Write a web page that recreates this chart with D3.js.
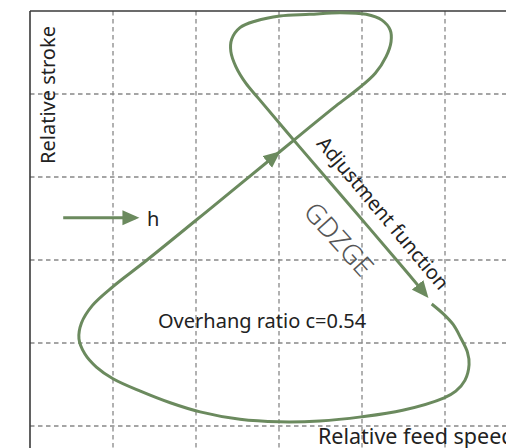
<!DOCTYPE html>
<html>
  <head>
    <meta charset="utf-8" />
    <script src="https://cdn.jsdelivr.net/npm/d3@7"></script>
    <style>
      body { margin: 0; background: #fff; }
      svg text { font-family: 'Noto Sans', 'Open Sans', sans-serif; fill: #222; }
    </style>
  </head>
  <body>
    <svg id="chart" width="506" height="448"></svg>
    <script>
      // grid positions (relative units)
      var gridX = [1, 2, 3, 4, 5];
      var gridY = [1, 2, 3, 4, 5];

      // lower part of the loop: from the gap after the right arrow round to the left arrow
      var lowLoop = [
        [4.84, 2.47], [4.98, 2.35], [5.10, 2.22], [5.19, 2.06], [5.27, 1.89],
        [5.29, 1.74], [5.24, 1.55], [5.13, 1.42], [4.99, 1.34], [4.49, 1.19],
        [3.99, 1.11], [3.49, 1.06], [3.00, 1.05], [2.53, 1.08], [2.05, 1.17],
        [1.69, 1.28], [1.33, 1.42], [1.00, 1.57], [0.80, 1.71], [0.66, 1.87],
        [0.59, 2.05], [0.62, 2.24], [0.75, 2.45], [1.00, 2.68], [1.41, 3.00],
        [2.21, 3.65], [2.98, 4.28]
      ];

      // upper part: from the left arrow over the top loop down the diagonal
      var highLoop = [
        [2.98, 4.28], [3.37, 4.60], [3.69, 4.86], [3.95, 5.06], [4.16, 5.25],
        [4.29, 5.45], [4.35, 5.63], [4.34, 5.77], [4.24, 5.89], [4.05, 5.96],
        [3.74, 5.98], [3.37, 5.96], [3.01, 5.94], [2.72, 5.88], [2.53, 5.80],
        [2.43, 5.66], [2.42, 5.51], [2.48, 5.33], [2.60, 5.13], [2.75, 4.95],
        [3.25, 4.36], [3.86, 3.65], [4.46, 2.95], [4.77, 2.58]
      ];

      // the small "h" arrow
      var hArrow = [[0.40, 3.51], [1.27, 3.51]];

      var green = '#6b8a5e';
      var svg = d3.select('#chart');

      var x = d3.scaleLinear().domain([0, 6]).range([30, 528]);
      var y = d3.scaleLinear().domain([0, 6]).range([509, 11]);

      svg.append('defs')
        .append('marker')
        .attr('id', 'head')
        .attr('markerUnits', 'userSpaceOnUse')
        .attr('markerWidth', 18)
        .attr('markerHeight', 16)
        .attr('refX', 13)
        .attr('refY', 8)
        .attr('orient', 'auto')
        .append('path')
        .attr('d', 'M0,0.5 L17,8 L0,15.5 Z')
        .attr('fill', green);

      // dashed grid
      svg.selectAll('.vgrid')
        .data(gridX)
        .enter()
        .append('line')
        .attr('class', 'vgrid')
        .attr('x1', function(d) { return x(d); })
        .attr('x2', function(d) { return x(d); })
        .attr('y1', y(6))
        .attr('y2', 448)
        .attr('stroke', '#888')
        .attr('stroke-width', 1.3)
        .attr('stroke-dasharray', '4.5,3.5');
      svg.selectAll('.hgrid')
        .data(gridY)
        .enter()
        .append('line')
        .attr('class', 'hgrid')
        .attr('x1', x(0))
        .attr('x2', 506)
        .attr('y1', function(d) { return y(d); })
        .attr('y2', function(d) { return y(d); })
        .attr('stroke', '#888')
        .attr('stroke-width', 1.3)
        .attr('stroke-dasharray', '4.5,3.5');

      // frame (top and left)
      svg.append('line')
        .attr('x1', x(0)).attr('x2', 506)
        .attr('y1', y(6)).attr('y2', y(6))
        .attr('stroke', '#3a3a3a').attr('stroke-width', 1.6);
      svg.append('line')
        .attr('x1', x(0)).attr('x2', x(0))
        .attr('y1', y(6)).attr('y2', 448)
        .attr('stroke', '#3a3a3a').attr('stroke-width', 1.6);

      var curve = d3.line()
        .x(function(d) { return x(d[0]); })
        .y(function(d) { return y(d[1]); })
        .curve(d3.curveCatmullRom.alpha(0.5));

      [lowLoop, highLoop, hArrow].forEach(function(pts) {
        svg.append('path')
          .attr('d', curve(pts))
          .attr('fill', 'none')
          .attr('stroke', green)
          .attr('stroke-width', 3)
          .attr('marker-end', 'url(#head)');
      });

      // labels
      svg.append('text')
        .attr('transform', 'translate(55,95) rotate(-90)')
        .attr('text-anchor', 'middle')
        .style('font-size', '20px')
        .text('Relative stroke');

      // the reference crops this label at the right edge
      svg.append('text')
        .attr('x', 318)
        .attr('y', 444)
        .style('font-size', '21.5px')
        .text('Relative feed speed');

      svg.append('text')
        .attr('x', 158)
        .attr('y', 328)
        .style('font-size', '20px')
        .text('Overhang ratio c=0.54');

      svg.append('text')
        .attr('x', 147)
        .attr('y', 226)
        .style('font-size', '20px')
        .text('h');

      svg.append('text')
        .attr('transform', 'translate(383,213) rotate(50)')
        .attr('text-anchor', 'middle')
        .attr('dy', '0.35em')
        .style('font-size', '20px')
        .text('Adjustment function');

      svg.append('text')
        .attr('transform', 'translate(339,239) rotate(48)')
        .attr('text-anchor', 'middle')
        .attr('dy', '0.36em')
        .style('font-size', '27px')
        .style('font-weight', 300)
        .style('fill', '#555')
        .text('GDZGE');
    </script>
  </body>
</html>
